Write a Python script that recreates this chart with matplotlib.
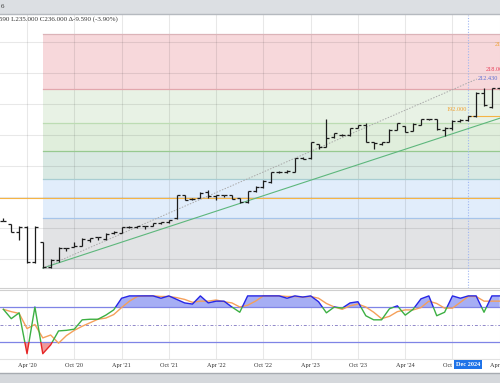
import matplotlib
matplotlib.use("Agg")
import matplotlib.pyplot as plt
from matplotlib.patches import Rectangle
from matplotlib.lines import Line2D
import numpy as np
import pandas as pd

# monthly bars, Jan 2020 .. Apr 2025
months = pd.date_range("2020-01-01", periods=64, freq="MS")

opens = [124.5, 122.3, 117.2, 120.4, 97.8, 110.7, 94.6, 98.8, 106.8, 107.5, 108.0, 112.0,
         113.9, 112.6, 116.5, 116.5, 120.4, 120.6, 121.0, 121.0, 122.9, 123.6, 126.0, 140.8,
         138.4, 139.1, 143.0, 140.5, 140.8, 140.8, 139.0, 136.2, 143.3, 146.5, 149.5, 155.6,
         155.9, 156.0, 164.9, 164.9, 173.9, 172.0, 178.4, 179.7, 179.7, 184.3, 186.5, 175.2,
         174.0, 175.2, 183.0, 185.5, 182.5, 186.5, 189.8, 189.8, 183.0, 184.0, 189.0, 189.4,
         191.8, 207.0, 198.0, 209.8]
highs = [126.5, 122.6, 121.0, 121.0, 121.3, 111.0, 99.5, 107.5, 107.0, 110.7, 113.3, 113.5,
         114.0, 116.5, 117.5, 120.6, 121.0, 121.3, 121.2, 123.0, 123.6, 125.0, 141.3, 141.0,
         139.1, 143.0, 144.2, 141.3, 141.3, 141.0, 139.3, 143.6, 146.8, 150.5, 155.9, 156.3,
         157.2, 165.0, 165.5, 175.5, 174.2, 190.1, 181.0, 180.3, 184.3, 186.2, 187.5, 175.5,
         175.5, 183.3, 187.5, 185.8, 187.5, 190.1, 190.3, 190.1, 184.9, 189.4, 190.1, 192.0,
         207.5, 210.1, 210.1, 210.7]
lows = [124.0, 117.0, 112.0, 97.2, 97.0, 93.9, 94.0, 97.8, 105.0, 107.2, 107.8, 110.7,
        112.0, 112.3, 116.0, 116.3, 119.5, 120.0, 119.1, 120.8, 122.5, 123.2, 125.8, 137.8,
        137.8, 138.8, 139.0, 137.8, 140.0, 138.4, 135.9, 135.8, 142.8, 145.8, 149.0, 155.0,
        155.3, 155.8, 164.0, 164.5, 170.7, 171.8, 178.0, 179.0, 179.4, 184.0, 175.2, 170.7,
        173.2, 175.0, 182.8, 181.7, 182.3, 186.0, 189.3, 182.8, 179.1, 183.0, 188.0, 189.0,
        191.5, 198.4, 197.2, 208.8]
closes = [124.3, 117.2, 120.4, 97.8, 120.6, 94.6, 98.8, 107.0, 106.8, 108.0, 112.6, 113.3,
          113.9, 116.0, 117.2, 120.4, 120.4, 121.0, 121.0, 122.9, 123.6, 124.9, 140.8, 138.0,
          138.4, 142.5, 140.5, 140.8, 140.8, 138.6, 136.2, 143.3, 146.5, 150.0, 155.6, 155.9,
          156.5, 164.9, 164.5, 175.2, 172.0, 177.8, 180.8, 179.7, 184.0, 186.0, 175.5, 174.6,
          175.2, 183.0, 187.2, 182.0, 187.0, 189.8, 189.8, 183.3, 184.3, 189.0, 189.4, 191.8,
          207.0, 198.8, 209.8, 209.4]

# stochastic %K / %D
stoch_k = [76, 60, 70, 0, 80, 0, 15, 39, 40, 42, 58, 59,
           59, 66, 75, 95, 99, 99, 99, 99, 95, 99, 93, 87,
           85, 99, 87, 90, 90, 80, 71, 99, 99, 99, 99, 99,
           95, 99, 97, 99, 89, 70, 80, 78, 87, 89, 65, 58,
           58, 77, 82, 66, 76, 94, 99, 65, 71, 99, 95, 99,
           99, 71, 99, 99]
stoch_d = [76, 72, 69, 43, 50, 27, 32, 18, 31, 40, 47, 53,
           59, 61, 67, 79, 90, 98, 99, 99, 98, 98, 96, 93,
           88, 90, 90, 92, 89, 87, 80, 83, 90, 99, 99, 99,
           98, 98, 97, 98, 95, 86, 80, 76, 82, 85, 80, 71,
           60, 64, 72, 75, 75, 79, 90, 86, 78, 78, 88, 98,
           98, 90, 90, 90]

# drawings
fib_low = 93.9
fib_high = 245.0
fib_start = 5  # Jun 2020
fib_levels = [0, 0.236, 0.382, 0.5, 0.618, 0.786, 1]
fib_fills = ["#f7d8db", "#e8f2e5", "#e0eedc", "#d9e9e3", "#e1edfb", "#e2e3e5"]
fib_lines = ["#dbb3b8", "#e2a7ad", "#bcdcb3", "#97c990", "#a8cdd2", "#a6c5ea", "#c4c5c8"]
green_trend = [(5, 93.9), (56, 178.9)]
dotted_trend = [(5, 93.9), (60.1, 215.9)]
support_level = 139.1
target_level = 192.0
target_start = 59  # Dec 2024

W, H = 500, 383
SERIF = ["Liberation Serif", "DejaVu Serif"]


def fy(py):
    return 1 - py / H


fig = plt.figure(figsize=(W / 100, H / 100), dpi=100)
fig.patch.set_facecolor("white")

# header / footer chrome
fig.add_artist(Rectangle((0, fy(13.5)), 1, 13.5 / H, transform=fig.transFigure,
                         fc="#dcdfe3", ec="none", zorder=0))
fig.add_artist(Line2D([0, 1], [fy(14)] * 2, transform=fig.transFigure, color="#b5b9bf", lw=1))
fig.add_artist(Rectangle((0, 0), 1, 10.5 / H, transform=fig.transFigure,
                         fc="#d5d8dc", ec="none", zorder=0))
fig.add_artist(Line2D([0, 1], [fy(372.8)] * 2, transform=fig.transFigure, color="#a7abb1", lw=1))

x = np.arange(len(months))
xlim = (-0.43, 63.03)
tick_pos = [i for i, m in enumerate(months) if m.month in (4, 10)]
tick_lab = [m.strftime("%b '%y") for m in months if m.month in (4, 10)]

# ---------------- price panel ----------------
ax = fig.add_axes([0, fy(288), 1, (288 - 15) / H])
ax.set_xlim(*xlim)
ax.set_ylim(81.0, 257.2)
ax.set_xticks(tick_pos)
ax.set_yticks(np.arange(100, 260, 20))
ax.tick_params(length=0, labelbottom=False, labelleft=False)
ax.set_axisbelow(True)
ax.grid(True, color="black", alpha=0.09, lw=0.8)
for s in ["top", "left", "right"]:
    ax.spines[s].set_visible(False)
ax.spines["bottom"].set_color("#cfcfcf")

levels = [fib_high - lv * (fib_high - fib_low) for lv in fib_levels]
span = [fib_start, 70]
for i in range(len(levels) - 1):
    ax.fill_between(span, levels[i + 1], levels[i], color=fib_fills[i], lw=0, zorder=0.2)
for lv, c in zip(levels, fib_lines):
    ax.plot(span, [lv, lv], color=c, lw=0.9, zorder=0.6)

# bars
w = 0.38
ax.vlines(x, lows, highs, color="#1c1c1c", lw=0.9, zorder=3)
ax.hlines(opens, x - w, x, color="#1c1c1c", lw=0.9, zorder=3)
ax.hlines(closes, x, x + w, color="#1c1c1c", lw=0.9, zorder=3)

# lines
ax.axhline(support_level, color="#f5b445", lw=0.8, zorder=2)
ax.plot([target_start, 70], [target_level, target_level], color="#f5b445", lw=0.8, zorder=2)
(gx0, gy0), (gx1, gy1) = green_trend
slope = (gy1 - gy0) / (gx1 - gx0)
ax.plot([gx0, 70], [gy0, gy0 + slope * (70 - gx0)], color="#5db77c", lw=0.8, zorder=2)
(dx0, dy0), (dx1, dy1) = dotted_trend
ax.plot([dx0, dx1], [dy0, dy1], color="#a9a9a9", lw=0.7, ls=(0, (1.5, 1.5)), zorder=2)
ax.axvline(target_start, color="#9fb6f2", lw=0.8, ls=(0, (1, 1.5)), zorder=1)

ax.text(target_start - 0.15, 195.9, "192.000", color="#f0a030", fontsize=4.5,
        family=SERIF, ha="right", va="center", zorder=4)
ax.text(60.2, 216.5, "212.430", color="#5a6ed2", fontsize=4.5, family=SERIF,
        ha="left", va="center", zorder=4, clip_on=False)
ax.text(61.25, 221.8, "218.000", color="#e8405a", fontsize=4.5, family=SERIF,
        ha="left", va="center", zorder=4, clip_on=False)
ax.text(62.3, 238.4, "219.000", color="#f0a030", fontsize=4.5, family=SERIF,
        ha="left", va="center", zorder=4, clip_on=False)

# ---------------- stochastic panel ----------------
ax2 = fig.add_axes([0, fy(359), 1, (359 - 290) / H])
ax2.set_xlim(*xlim)
ax2.set_ylim(-9.1, 109.1)
ax2.set_xticks(tick_pos)
ax2.set_xticklabels(tick_lab, fontsize=4.5, family=SERIF, color="#333333")
ax2.set_yticks([])
ax2.tick_params(length=0, pad=3.2)
ax2.set_axisbelow(True)
ax2.grid(True, axis="x", color="black", alpha=0.09, lw=0.8)
for s in ["left", "right"]:
    ax2.spines[s].set_visible(False)
ax2.spines["top"].set_color("#cfcfcf")
ax2.spines["bottom"].set_color("#e2e2e2")

k = np.array(stoch_k, dtype=float)
ax2.fill_between(x, k, 80, where=k >= 80, interpolate=True, color="#a6aef4", lw=0, zorder=1)
ax2.fill_between(x, k, 20, where=k <= 20, interpolate=True, color="#f09a9a", lw=0, zorder=1)
ax2.axhline(80, color="#7f84e6", lw=0.9, zorder=2)
ax2.axhline(20, color="#7f84e6", lw=0.9, zorder=2)
ax2.axhline(50, color="#8f87c9", lw=0.7, ls=(0, (3, 2, 1, 2)), zorder=2)
ax2.plot(x, stoch_d, color="#f5a05a", lw=1.0, zorder=3)
for c, lo, hi in [("#3cb043", 20, 80), ("#2626e6", 80, 300), ("#e62626", -100, 20)]:
    ln, = ax2.plot(x, k, color=c, lw=1.0, zorder=4)
    ln.set_clip_path(Rectangle((-5, lo), 80, hi - lo, transform=ax2.transData))

# header texts
fig.text(0.5 / W, fy(6), "6", fontsize=5, family=SERIF, color="#333333", va="center")
fig.text(-1 / W, fy(19), "590 L235.000 C236.000 \u0394-9.590 (-3.90%)", fontsize=5,
         family=SERIF, color="#333333", va="center", ha="left")
fig.text(468 / W, fy(364.5), "Dec 2024", fontsize=4.5, family=SERIF, color="white",
         fontweight="bold", ha="center", va="center",
         bbox=dict(boxstyle="square,pad=0.35", fc="#1f73e8", ec="none"))

fig.savefig("out.png", dpi=100)
